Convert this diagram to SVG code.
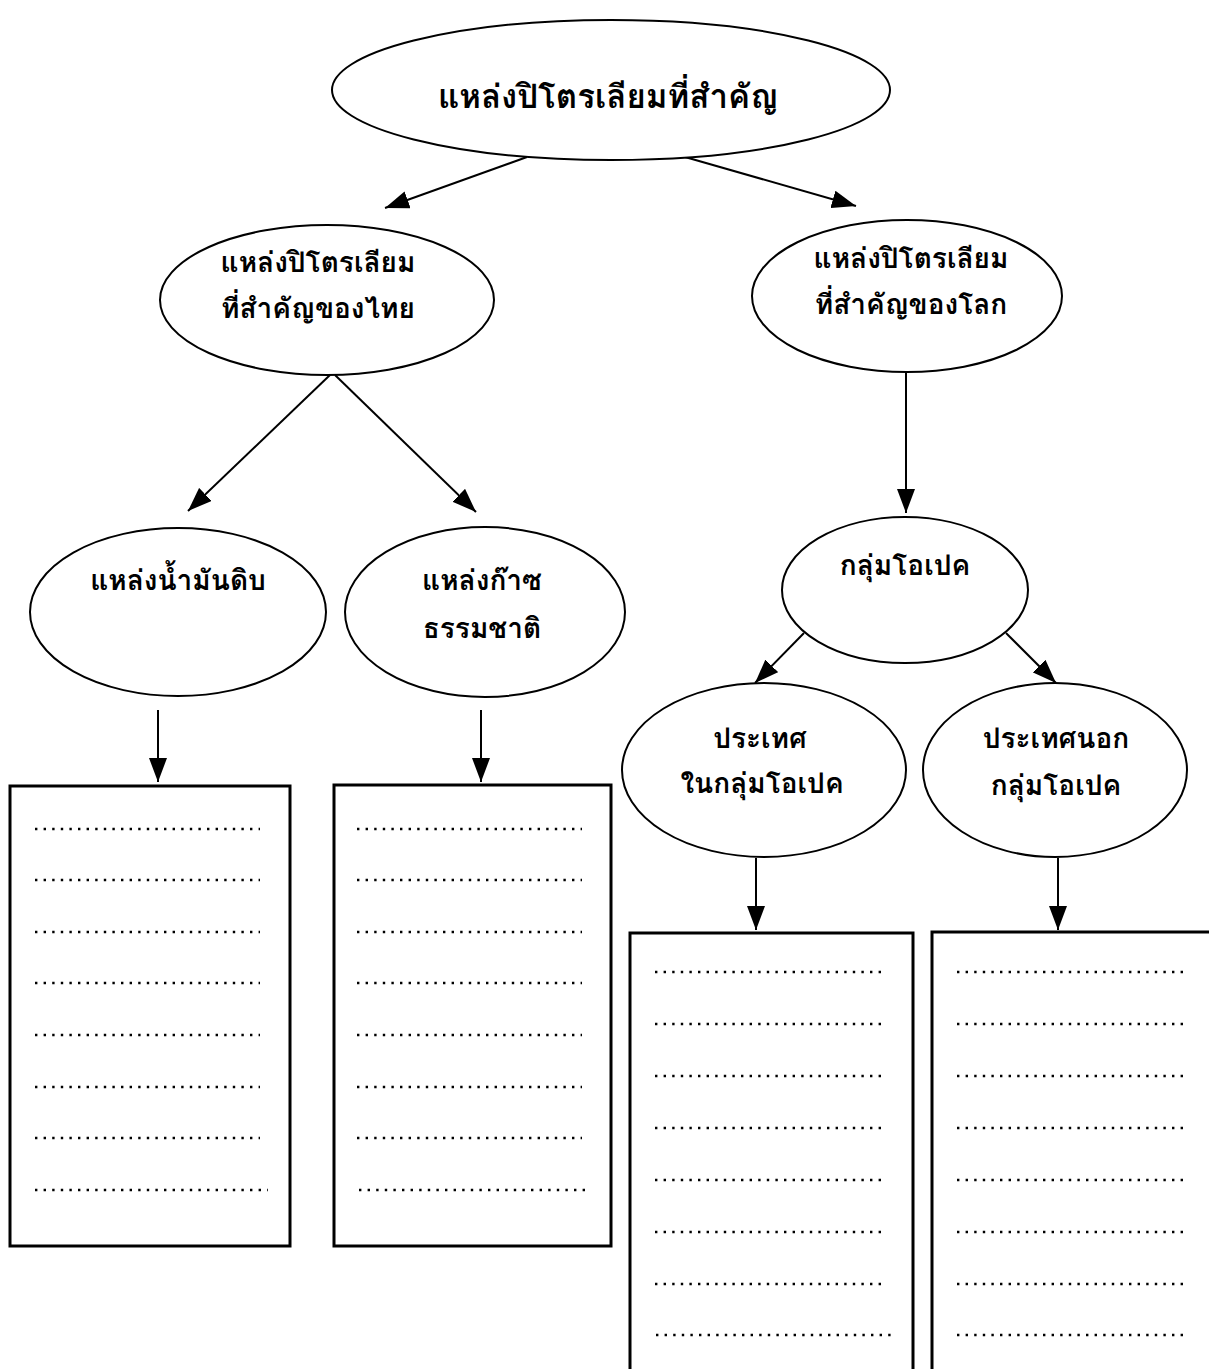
<svg xmlns="http://www.w3.org/2000/svg" width="1209" height="1369" viewBox="0 0 1209 1369">
<defs>
<marker id="ah" viewBox="0 0 24 18" refX="24" refY="9" markerWidth="24" markerHeight="18" markerUnits="userSpaceOnUse" orient="auto">
<path d="M0,0 L24,9 L0,18 z" fill="#000"/>
</marker>
</defs>
<style>
.n{fill:#fff;stroke:#000;stroke-width:2}
.b{fill:#fff;stroke:#000;stroke-width:3}
.t{font-family:"Loma","Garuda","Noto Sans Thai Looped","Noto Serif Thai","Noto Sans Thai","Noto Sans","DejaVu Sans",sans-serif;font-weight:bold;font-size:28px;fill:#000}
.tt{font-size:33px}
.c{stroke:#000;stroke-width:2;fill:none;marker-end:url(#ah)}
.d{stroke:#000;stroke-width:2.4;stroke-dasharray:2.4 6.2;fill:none}
</style>
<rect width="1209" height="1369" fill="#fff"/>
<g id="connectors">
<line class="c" x1="527" y1="157" x2="385" y2="208"/>
<line class="c" x1="685" y1="157" x2="856" y2="206"/>
<line class="c" x1="330" y1="375" x2="188" y2="511"/>
<line class="c" x1="335" y1="375" x2="476" y2="512"/>
<line class="c" x1="906" y1="372" x2="906" y2="513"/>
<line class="c" x1="158" y1="710" x2="158" y2="782"/>
<line class="c" x1="481" y1="710" x2="481" y2="782"/>
<line class="c" x1="804" y1="633" x2="755" y2="683"/>
<line class="c" x1="1006" y1="633" x2="1056" y2="683"/>
<line class="c" x1="756" y1="858" x2="756" y2="930"/>
<line class="c" x1="1058" y1="858" x2="1058" y2="930"/>
</g>
<g id="root">
<ellipse class="n" cx="611" cy="90" rx="279" ry="70"/>
<text class="t tt" x="608" y="108" text-anchor="middle">แหล่งปิโตรเลียมที่สำคัญ</text>
</g>
<g id="thai">
<ellipse class="n" cx="327" cy="300" rx="167" ry="75"/>
<text class="t" x="318" y="272" text-anchor="middle">แหล่งปิโตรเลียม</text>
<text class="t" x="318" y="318" text-anchor="middle">ที่สำคัญของไทย</text>
</g>
<g id="world">
<ellipse class="n" cx="907" cy="296" rx="155" ry="76"/>
<text class="t" x="911" y="268" text-anchor="middle">แหล่งปิโตรเลียม</text>
<text class="t" x="911" y="314" text-anchor="middle">ที่สำคัญของโลก</text>
</g>
<g id="oil">
<ellipse class="n" cx="178" cy="612" rx="148" ry="84"/>
<text class="t" x="178" y="590" text-anchor="middle">แหล่งน้ำมันดิบ</text>
</g>
<g id="gas">
<ellipse class="n" cx="485" cy="612" rx="140" ry="85"/>
<text class="t" x="482" y="590" text-anchor="middle">แหล่งก๊าซ</text>
<text class="t" x="482" y="638" text-anchor="middle">ธรรมชาติ</text>
</g>
<g id="opec">
<ellipse class="n" cx="905" cy="590" rx="123" ry="73"/>
<text class="t" x="905" y="575" text-anchor="middle">กลุ่มโอเปค</text>
</g>
<g id="in-opec">
<ellipse class="n" cx="764" cy="770" rx="142" ry="87"/>
<text class="t" x="760" y="748" text-anchor="middle">ประเทศ</text>
<text class="t" x="762" y="793" text-anchor="middle">ในกลุ่มโอเปค</text>
</g>
<g id="out-opec">
<ellipse class="n" cx="1055" cy="770" rx="132" ry="87"/>
<text class="t" x="1056" y="748" text-anchor="middle">ประเทศนอก</text>
<text class="t" x="1056" y="795" text-anchor="middle">กลุ่มโอเปค</text>
</g>
<g id="box-oil">
<rect class="b" x="10" y="786" width="280" height="460"/>
<path class="d" d="M35,829H260M35,880H260M35,932H260M35,983H260M35,1035H260M35,1087H260M35,1138H260M35,1190H268"/>
</g>
<g id="box-gas">
<rect class="b" x="334" y="785" width="277" height="461"/>
<path class="d" d="M357,829H582M357,880H582M357,932H582M357,983H582M357,1035H582M357,1087H582M357,1138H582M359,1190H590"/>
</g>
<g id="box-in-opec">
<rect class="b" x="630" y="933" width="283" height="450"/>
<path class="d" d="M655,972H883M655,1024H883M655,1076H883M655,1128H883M655,1180H883M655,1232H883M655,1284H883M656,1335H891"/>
</g>
<g id="box-out-opec">
<rect class="b" x="932" y="932" width="300" height="450"/>
<path class="d" d="M957,972H1186M957,1024H1186M957,1076H1186M957,1128H1186M957,1180H1186M957,1232H1186M957,1284H1186M957,1335H1186"/>
</g>
</svg>
